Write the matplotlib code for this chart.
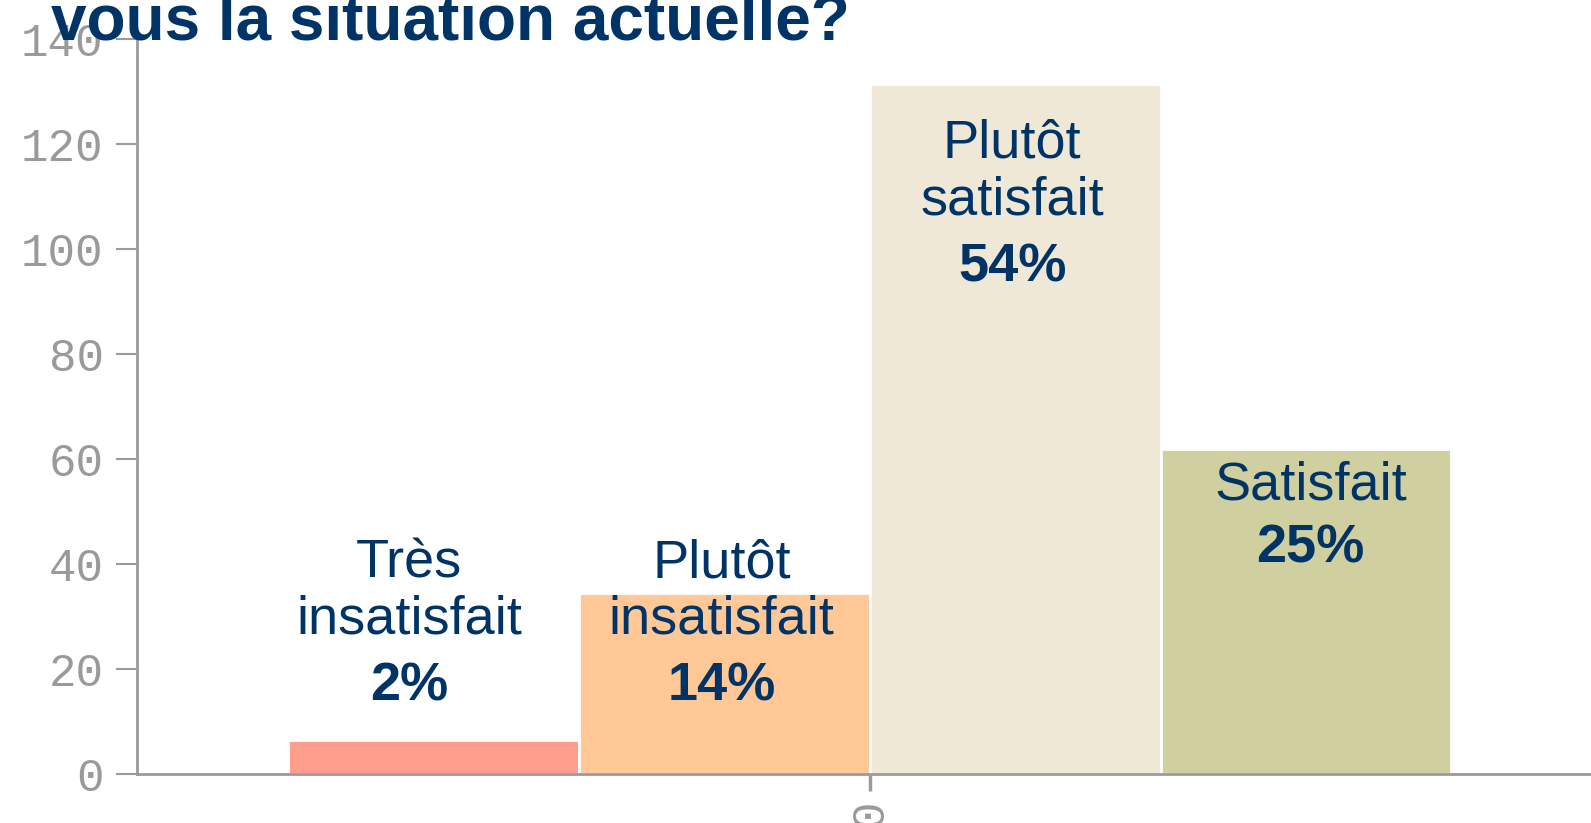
import matplotlib
matplotlib.use("Agg")
import matplotlib.pyplot as plt

# data
categories = ["Très\ninsatisfait", "Plutôt\ninsatisfait", "Plutôt\nsatisfait", "Satisfait"]
counts = [6.5, 34.5, 131.5, 62]
percents = ["2%", "14%", "54%", "25%"]
colors = ["#ff9e8c", "#ffc896", "#f0e8d6", "#cfcfa0"]
yticks = [0, 20, 40, 60, 80, 100, 120, 140]

# where the labels sit (name block centre, percent centre), in data units
name_y = [34.8, 34.8, 114.7, 55.0]
pct_y = [16.6, 16.6, 96.5, 42.9]
label_dx = [-0.017, -0.002, -0.002, 0.003]

navy = "#003366"
grey = "#9a9a9a"

fig = plt.figure(figsize=(15.91, 8.23), dpi=100, facecolor="white")
ax = fig.add_axes([0.0861, 0.0595, 0.9139, 0.8931])

w = 0.2
n = len(counts)
xs = [(i - (n - 1) / 2) * w for i in range(n)]
ax.bar(xs, counts, width=w, color=colors, edgecolor="white", linewidth=2)

for x, name, pct, ny, py, dx in zip(xs, categories, percents, name_y, pct_y, label_dx):
    ax.text(x + dx, ny, name, ha="center", va="center", fontsize=39,
            family="Liberation Sans", color=navy, linespacing=1.17)
    ax.text(x + dx, py, pct, ha="center", va="center", fontsize=39,
            family="Liberation Sans", weight="bold", color=navy)

ax.set_xlim(-0.504, 0.496)
ax.set_ylim(0, 140)
ax.set_yticks(yticks)
ax.set_xticks([0])
ax.set_xticklabels(["0"], rotation=90)

for side in ["top", "right"]:
    ax.spines[side].set_visible(False)
for side in ["left", "bottom"]:
    ax.spines[side].set_color(grey)
    ax.spines[side].set_linewidth(2)
ax.tick_params(axis="y", color=grey, labelcolor=grey, width=1.5, length=15, pad=9)
ax.tick_params(axis="x", color=grey, labelcolor=grey, width=2.5, length=12, pad=6)
for lab in ax.get_yticklabels() + ax.get_xticklabels():
    lab.set_family("Liberation Mono")
    lab.set_fontsize(33)

fig.text(51 / 1591, 1 - 39 / 823, "vous la situation actuelle?", fontsize=46,
         family="Liberation Sans", weight="bold", color=navy, va="baseline")

fig.savefig("out.png", dpi=100, facecolor="white")
